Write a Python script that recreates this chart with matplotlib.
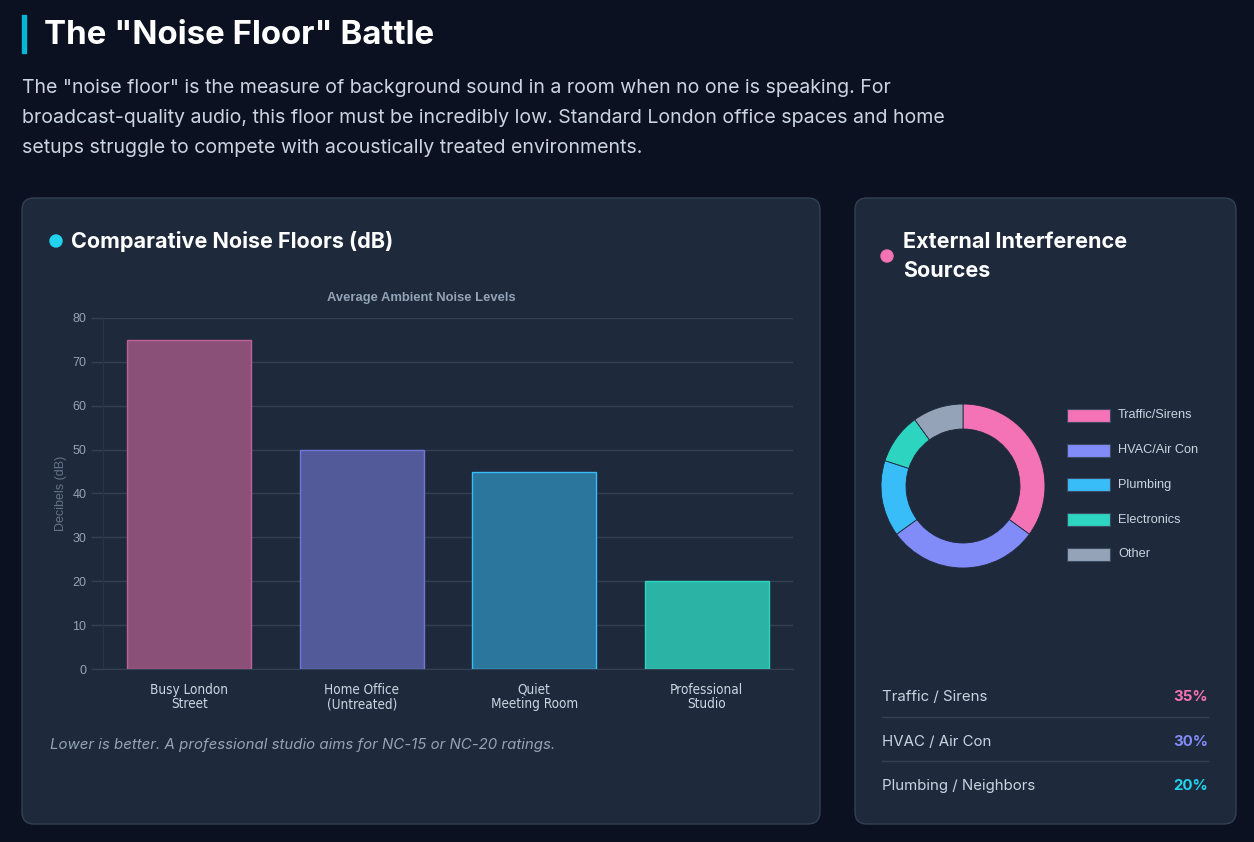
import numpy as np
import matplotlib
matplotlib.use("Agg")
import matplotlib.pyplot as plt
from matplotlib.patches import FancyBboxPatch, Rectangle, Circle

# === data ======================================================
bar_labels = ["Busy London\nStreet", "Home Office\n(Untreated)", "Quiet\nMeeting Room", "Professional\nStudio"]
bar_values = [75, 50, 45, 20]
bar_fill = ["#8b5078", "#525a9a", "#2b769d", "#2bb3a6"]
bar_edge = ["#c0609a", "#6f78d8", "#38bdf8", "#2dd4bf"]

donut_labels = ["Traffic/Sirens", "HVAC/Air Con", "Plumbing", "Electronics", "Other"]
donut_values = [35, 30, 15, 10, 10]
donut_colors = ["#f472b6", "#818cf8", "#38bdf8", "#2dd4bf", "#94a3b8"]

list_labels = ["Traffic / Sirens", "HVAC / Air Con", "Plumbing / Neighbors"]
list_values = ["35%", "30%", "20%"]
list_colors = ["#f472b6", "#818cf8", "#22d3ee"]
# ===============================================================

W, H = 1254, 842
BG = "#0b1120"
CARD = "#1e293b"
BORDER = "#334155"
PX = 72 / 100  # px -> pt

plt.rcParams['font.family'] = ['Inter', 'DejaVu Sans']

fig = plt.figure(figsize=(W / 100, H / 100), dpi=100, facecolor=BG)
bg = fig.add_axes([0, 0, 1, 1])
bg.set_xlim(0, W)
bg.set_ylim(H, 0)
bg.axis("off")
bg.set_facecolor(BG)


def frac(x0, y0, x1, y1):
    return [x0 / W, 1 - y1 / H, (x1 - x0) / W, (y1 - y0) / H]


# header
bg.add_patch(Rectangle((22, 15), 4, 38, color="#06b6d4"))
bg.text(44, 35, 'The "Noise Floor" Battle', color="white", fontsize=33 * PX,
        fontweight="bold", va="center", ha="left")
para = ['The "noise floor" is the measure of background sound in a room when no one is speaking. For',
        'broadcast-quality audio, this floor must be incredibly low. Standard London office spaces and home',
        'setups struggle to compete with acoustically treated environments.']
for i, line in enumerate(para):
    bg.text(22, 88 + i * 30, line, color="#cbd5e1", fontsize=19.5 * PX, va="center", ha="left")

# cards
for x0, x1 in [(22, 820), (855, 1236)]:
    bg.add_patch(FancyBboxPatch((x0, 198), x1 - x0, 626,
                                boxstyle="round,pad=0,rounding_size=12",
                                fc=CARD, ec=BORDER, lw=1))

bg.add_patch(Circle((56, 241), 6, color="#22d3ee"))
bg.text(71, 242, "Comparative Noise Floors (dB)", color="white", fontsize=21.6 * PX,
        fontweight="bold", va="center", ha="left")
bg.add_patch(Circle((887, 256), 6, color="#f472b6"))
bg.text(903, 242, "External Interference", color="white", fontsize=21.6 * PX,
        fontweight="bold", va="center", ha="left")
bg.text(903, 271, "Sources", color="white", fontsize=21.6 * PX,
        fontweight="bold", va="center", ha="left")

bg.text(421, 298, "Average Ambient Noise Levels", color="#94a3b8", fontsize=13 * PX,
        fontweight="bold", va="center", ha="center", family=["Liberation Sans", "DejaVu Sans"])
bg.text(61, 493, "Decibels (dB)", color="#64748b", fontsize=12.5 * PX, rotation=90,
        va="center", ha="center", family=["Liberation Sans", "DejaVu Sans"])
bg.text(50, 745, "Lower is better. A professional studio aims for NC-15 or NC-20 ratings.",
        color="#94a3b8", fontsize=15 * PX, style="italic", va="center", ha="left")

# bar chart
ax = fig.add_axes(frac(103, 318, 793, 669))
ax.set_facecolor("none")
x = np.arange(len(bar_values))
ax.bar(x, bar_values, width=0.72, color=bar_fill, edgecolor=bar_edge, linewidth=1, zorder=3)
ax.set_xlim(-0.5, len(bar_values) - 0.5)
ax.set_ylim(0, 80)
ax.set_yticks(np.arange(0, 81, 10))
ax.grid(axis="y", color="#334155", lw=1, zorder=0)
ax.tick_params(axis="y", colors="#334155", labelcolor="#94a3b8", length=9, width=1,
               labelsize=12.5 * PX, pad=3)
ax.set_xticks(x)
ax.set_xticklabels(bar_labels, color="#cbd5e1", fontsize=13.5 * PX, linespacing=1.05,
                   family=["DejaVu Sans"], fontstretch="condensed")
ax.tick_params(axis="x", length=0, pad=10)
for t in ax.get_yticklabels():
    t.set_family(["Liberation Sans", "DejaVu Sans"])
for s in ["top", "right"]:
    ax.spines[s].set_visible(False)
ax.spines["left"].set_color("#283548")
ax.spines["bottom"].set_color("#334155")

# donut
r = 82
dax = fig.add_axes(frac(963 - r, 486 - r, 963 + r, 486 + r))
dax.pie(donut_values, colors=donut_colors, startangle=90, counterclock=False, radius=1,
        wedgeprops=dict(width=0.305, edgecolor=CARD, linewidth=0.6))
dax.set_xlim(-1, 1)
dax.set_ylim(-1, 1)
dax.axis("off")

for i, (lab, col) in enumerate(zip(donut_labels, donut_colors)):
    y = 415.5 + i * 34.7
    bg.add_patch(Rectangle((1067, y - 6.5), 43, 13, fc=col, ec="#3b4a63", lw=0.8))
    bg.text(1118, y, lab, color="#cbd5e1", fontsize=12.8 * PX, va="center", ha="left",
            family=["Liberation Sans", "DejaVu Sans"])

# bottom list
for i, (lab, val, col) in enumerate(zip(list_labels, list_values, list_colors)):
    y = 697 + i * 44.5
    bg.text(882, y, lab, color="#cbd5e1", fontsize=15 * PX, va="center", ha="left")
    bg.text(1208, y, val, color=col, fontsize=15 * PX, fontweight="bold", va="center", ha="right")
    if i < len(list_labels) - 1:
        bg.plot([882, 1208], [y + 19.5, y + 19.5], color="#334155", lw=1)

fig.savefig("out.png", dpi=100, facecolor=BG)
